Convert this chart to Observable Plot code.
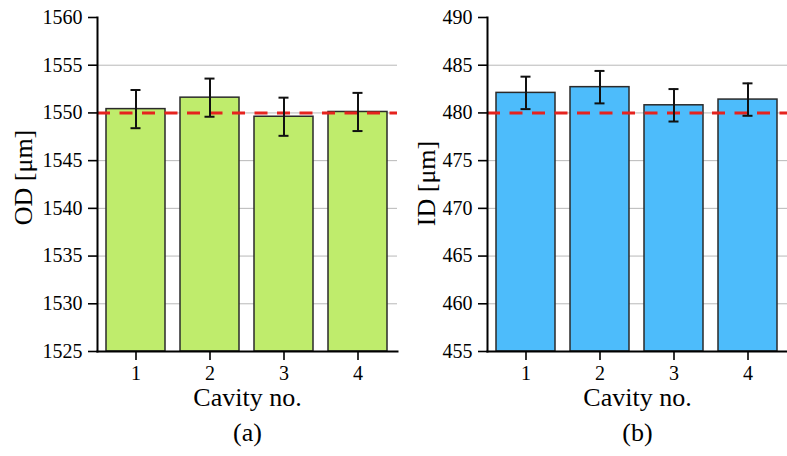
<!DOCTYPE html>
<html><head><meta charset="utf-8">
<script src="https://cdn.jsdelivr.net/npm/d3@7"></script>
<script src="https://cdn.jsdelivr.net/npm/@observablehq/plot@0.6"></script>
<style>
body{margin:0;background:#fff;}
#wrap{display:flex;width:787px;height:456px;}
#wrap svg{overflow:visible;display:block}
</style></head><body><div id="wrap"></div>
<script>
const cavities = ["1", "2", "3", "4"];
const odMean = [1550.4, 1551.6, 1549.6, 1550.1];
const odErr = [2.0, 2.0, 2.0, 2.0];
const idMean = [482.1, 482.7, 480.8, 481.4];
const idErr = [1.7, 1.7, 1.7, 1.7];
const odTicks = [1525, 1530, 1535, 1540, 1545, 1550, 1555, 1560];
const idTicks = [455, 460, 465, 470, 475, 480, 485, 490];
const odTarget = 1550;
const idTarget = 480;

function panel({mean, err, ticks, target, fill, ylabel, tag, width, marginLeft, marginRight, labelDx, labelDy}) {
  const data = cavities.map((c, i) => ({c, v: mean[i], lo: mean[i] - err[i], hi: mean[i] + err[i]}));
  const base = ticks[0];
  const capInset = 24.5;
  return Plot.plot({
    width, height: 456, marginLeft, marginRight, marginTop: 17, marginBottom: 105,
    style: {fontFamily: "'Liberation Serif', 'Times New Roman', serif", fontSize: "20px", color: "#000", background: "transparent"},
    x: {domain: cavities, paddingInner: 0.2, paddingOuter: 0.115, label: null},
    y: {domain: [ticks[0], ticks[ticks.length - 1]], label: null},
    marks: [
      Plot.gridY(ticks.slice(1, -1), {stroke: "#b8b8b8", strokeOpacity: 1, strokeWidth: 1}),
      Plot.barY(data, {x: "c", y1: base, y2: "v", fill, stroke: "#2a2a2a", strokeWidth: 1.5}),
      Plot.ruleY([target], {stroke: "#e5231e", strokeWidth: 3, strokeDasharray: "13,9.5"}),
      Plot.ruleX(data, {x: "c", y1: "lo", y2: "hi", stroke: "#111", strokeWidth: 2}),
      Plot.tickY(data, {x: "c", y: "lo", stroke: "#111", strokeWidth: 2, insetLeft: capInset, insetRight: capInset}),
      Plot.tickY(data, {x: "c", y: "hi", stroke: "#111", strokeWidth: 2, insetLeft: capInset, insetRight: capInset}),
      Plot.axisY(ticks, {tickSize: 9, tickPadding: 6, fontSize: 20, tickFormat: d3.format("d"), strokeWidth: 1.6, label: null}),
      Plot.axisX({tickSize: 9, tickPadding: 5, fontSize: 20, strokeWidth: 1.6, label: null}),
      Plot.frame({anchor: "left", strokeWidth: 2}),
      Plot.frame({anchor: "bottom", strokeWidth: 2}),
      Plot.text([ylabel], {frameAnchor: "left", dx: labelDx, dy: labelDy, rotate: -90, textAnchor: "middle", fontSize: 26}),
      Plot.text(["Cavity no."], {frameAnchor: "bottom", dy: 54, fontSize: 26}),
      Plot.text([tag], {frameAnchor: "bottom", dy: 89, fontSize: 26})
    ]
  });
}

const wrap = document.getElementById("wrap");
wrap.append(panel({mean: odMean, err: odErr, ticks: odTicks, target: odTarget, fill: "#bfec6c",
  ylabel: "OD [μm]", tag: "(a)", width: 400, marginLeft: 97, marginRight: 3, labelDx: -74, labelDy: -7}));
wrap.append(panel({mean: idMean, err: idErr, ticks: idTicks, target: idTarget, fill: "#4dbcfb",
  ylabel: "ID [μm]", tag: "(b)", width: 387, marginLeft: 87, marginRight: 0, labelDx: -61, labelDy: -1}));
</script>
</body></html>
